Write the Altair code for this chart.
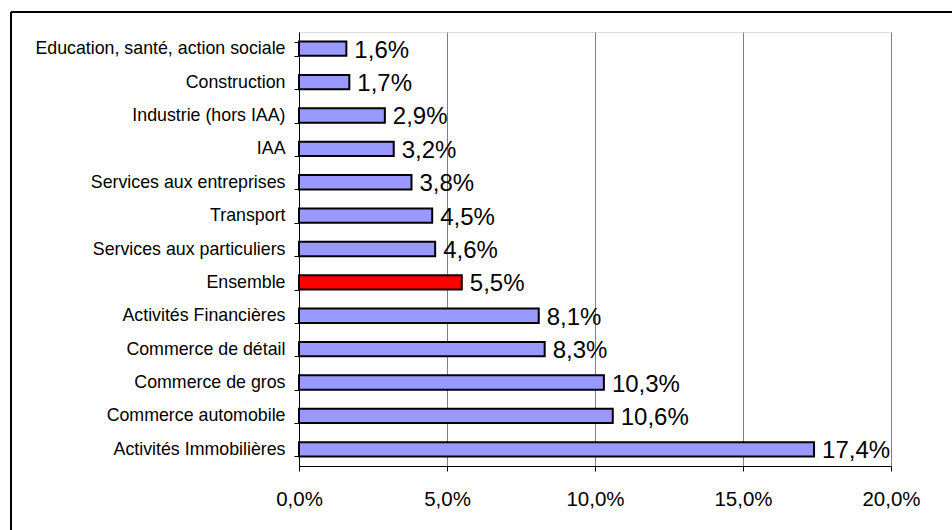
import altair as alt
import pandas as pd

categories = [
    "Education, santé, action sociale",
    "Construction",
    "Industrie (hors IAA)",
    "IAA",
    "Services aux entreprises",
    "Transport",
    "Services aux particuliers",
    "Ensemble",
    "Activités Financières",
    "Commerce de détail",
    "Commerce de gros",
    "Commerce automobile",
    "Activités Immobilières",
]
values = [1.6, 1.7, 2.9, 3.2, 3.8, 4.5, 4.6, 5.5, 8.1, 8.3, 10.3, 10.6, 17.4]
x_ticks = [0, 5, 10, 15, 20]

df = pd.DataFrame({"cat": categories, "v": values})
df["hl"] = ["oui" if c == "Ensemble" else "non" for c in categories]

FONT = "Liberation Sans"

y_enc = alt.Y(
    "cat:N",
    sort=categories,
    scale=alt.Scale(paddingInner=0.57, paddingOuter=0.285),
    axis=alt.Axis(
        title=None,
        tickBand="extent",
        domainColor="black",
        tickColor="black",
        tickSize=5,
        labelFont=FONT,
        labelFontSize=17.8,
        labelColor="black",
        labelPadding=9,
        labelLimit=0,
        grid=False,
    ),
)
x_enc = alt.X(
    "v:Q",
    scale=alt.Scale(domain=[0, 20], nice=False),
    axis=alt.Axis(
        title=None,
        values=x_ticks,
        labelExpr="replace(format(datum.value, '.1f'), '.', ',') + '%'",
        labelFlush=False,
        domainColor="black",
        tickColor="black",
        tickSize=5,
        labelFont=FONT,
        labelFontSize=20.5,
        labelColor="black",
        labelPadding=18,
        labelOverlap=False,
        grid=True,
        gridColor="#808080",
        gridWidth=1,
    ),
)

bars = alt.Chart(df).mark_bar(stroke="black", strokeWidth=2).encode(
    x=x_enc,
    y=y_enc,
    color=alt.Color(
        "hl:N",
        scale=alt.Scale(domain=["non", "oui"], range=["#9999FF", "#FF0000"]),
        legend=None,
    ),
)

labels = alt.Chart(df).transform_calculate(
    lab="replace(format(datum.v, '.1f'), '.', ',') + '%'"
).mark_text(
    align="left", baseline="middle", dx=8, dy=2, font=FONT, fontSize=24, color="black"
).encode(
    x="v:Q",
    y=alt.Y("cat:N", sort=categories),
    text="lab:N",
)

frame_top = alt.Chart(df).mark_rule(color="black", strokeWidth=1).encode(
    x=alt.value(-288), x2=alt.value(700), y=alt.value(-20)
)
frame_left = alt.Chart(df).mark_rule(color="black", strokeWidth=1).encode(
    x=alt.value(-288), y=alt.value(-20), y2=alt.value(600)
)

chart = alt.layer(bars, labels, frame_top, frame_left).properties(
    width=592,
    height=434,
    autosize=alt.AutoSizeParams(type="none"),
    padding={"left": 299, "top": 32, "right": 61, "bottom": 64},
).configure_view(
    stroke="#808080", strokeWidth=1
).configure(background="white")

chart.save("out.html", embed_options={"renderer": "svg", "actions": False})
